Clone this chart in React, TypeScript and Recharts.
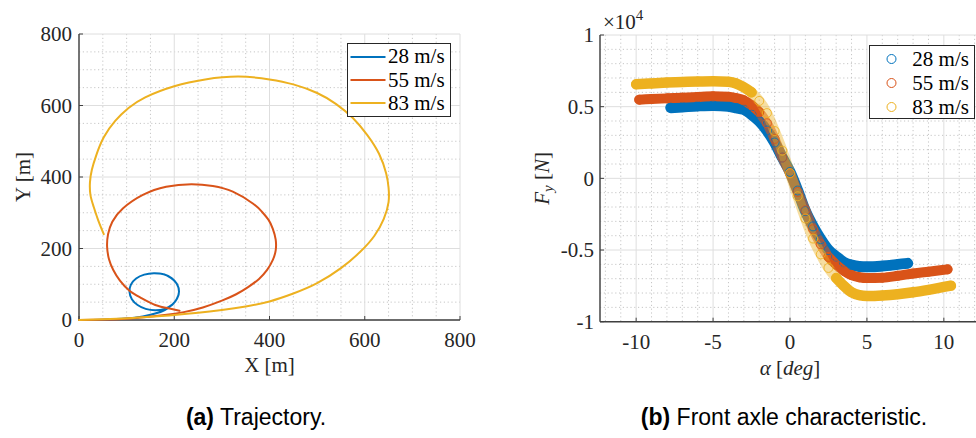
import React from 'react';
import { ScatterChart, Scatter, XAxis, YAxis, CartesianGrid, Legend, Curve } from 'recharts';

const SERIF = '"Liberation Serif", "Times New Roman", serif';
const SANS = '"Liberation Sans", Arial, sans-serif';
const AXIS_COLOR = '#262626';
const MAJOR_GRID = '#dedede';
const MINOR_GRID = '#c6c6c6';

const seriesLabels = ['28 m/s', '55 m/s', '83 m/s'];
const seriesColors = ['#0072BD', '#D95319', '#EDB120'];

// ---- (a) Trajectory: X [m], Y [m]
const traj28X = [0, 50, 100, 134, 160, 180, 195, 205, 210, 206, 195, 178, 157, 137, 120, 109, 106, 111, 123, 140, 160, 180, 196, 206, 210, 205, 193, 175, 157];
const traj28Y = [0, 1, 4, 10, 18, 28, 42, 58, 79, 100, 117, 128, 131, 127, 116, 99, 79, 58, 42, 31, 27, 31, 43, 60, 80, 102, 118, 129, 131];
const traj55X = [0, 43, 90, 130, 180, 220, 260, 300, 330, 355, 378, 395, 407, 413, 413, 407, 398, 384, 365, 323, 281, 236, 183, 134, 92, 70, 61, 59, 63, 72, 86, 106, 130, 160, 190, 211];
const traj55Y = [0, 1, 3, 7, 14, 22, 35, 54, 72, 92, 115, 140, 168, 195, 225, 255, 280, 303, 326, 359, 375, 380, 373, 350, 312, 275, 240, 205, 170, 140, 110, 82, 62, 42, 32, 26];
const traj83X = [0, 50, 104, 150, 200, 250, 300, 350, 400, 450, 500, 550, 590, 620, 640, 650, 650, 645, 630, 605, 575, 540, 500, 450, 400, 335, 265, 200, 139, 104, 76, 52, 36, 27, 23, 24, 30, 40, 52];
const traj83Y = [0, 2, 5, 9, 14, 20, 28, 38, 52, 74, 103, 145, 190, 235, 283, 330, 370, 410, 465, 518, 565, 604, 635, 659, 673, 681, 673, 654, 623, 593, 557, 511, 460, 420, 385, 350, 320, 280, 240];
const trajTicks = [0, 200, 400, 600, 800];

// ---- (b) Front axle characteristic: alpha [deg], Fy [N]
const alpha28 = [-7.75, -7, -6, -5, -4, -3.5, -3, -2.5, -2, -1.5, -1, -0.5, 0, 0.5, 1, 1.5, 2, 2.5, 3, 3.5, 4, 4.5, 5, 5.5, 6, 6.5, 7, 7.65];
const fy28 = [4930, 4980, 5050, 5090, 5020, 4920, 4800, 4450, 3980, 3340, 2500, 1450, 450, -850, -2280, -3350, -4250, -5000, -5450, -5850, -6050, -6150, -6170, -6160, -6120, -6070, -6000, -5930];
const alpha55 = [-9.8, -9, -8, -7, -6, -5, -4, -3.5, -3, -2.5, -2, -1.5, -1, -0.5, 0, 0.5, 1, 1.5, 2, 2.5, 3, 3.5, 4, 4.5, 5, 6, 7, 8, 9, 10.24];
const fy55 = [5490, 5530, 5580, 5630, 5680, 5720, 5690, 5600, 5450, 5100, 4620, 3840, 2750, 1450, 350, -950, -2230, -3550, -4600, -5480, -6020, -6450, -6750, -6900, -6960, -6930, -6800, -6640, -6510, -6350];
const alpha83 = [-10, -9, -8, -7, -6, -5, -4, -3.5, -3, -2.5, -2, -1.5, -1, -0.5, 0, 0.5, 1, 1.5, 2, 2.5, 3, 3.5, 4, 4.5, 5, 5.5, 6, 7, 8, 9, 10.46];
const fy83 = [6560, 6620, 6680, 6720, 6760, 6780, 6740, 6620, 6350, 6000, 5400, 4550, 3300, 1930, 350, -1250, -2800, -4200, -5300, -6250, -6950, -7500, -7950, -8150, -8210, -8200, -8170, -8080, -7950, -7780, -7490];
const alphaTicks = [-10, -5, 0, 5, 10];
const fyTicks = [-10000, -5000, 0, 5000, 10000];

// transition band (lighter, ring-textured in the original) per series
const bandMid = [
  { from: 0, to: 0, opacity: 1, width: 11 },
  { from: -2, to: 2.5, opacity: 0.6, width: 10 },
  { from: -2.5, to: 3, opacity: 0.42, width: 10.5 },
];

const zip = (xs: number[], ys: number[]) => xs.map((x, i) => ({ x, y: ys[i] }));
const trajSeries = [zip(traj28X, traj28Y), zip(traj55X, traj55Y), zip(traj83X, traj83Y)];
const fySeries = [zip(alpha28, fy28), zip(alpha55, fy55), zip(alpha83, fy83)];

const TRAJ_DOMAIN: [number, number] = [0, 800];
const ALPHA_DOMAIN: [number, number] = [-12.35, 12.35];
const FY_DOMAIN: [number, number] = [-10000, 10000];

function minorGen(domain: [number, number], step: number, majorStep: number, key: 'xAxis' | 'yAxis') {
  return (props: any) => {
    const axis = props[key];
    const off = props.offset || {};
    const out: number[] = [];
    const n0 = Math.ceil(domain[0] / step - 1e-9);
    const n1 = Math.floor(domain[1] / step + 1e-9);
    for (let n = n0; n <= n1; n++) {
      const v = n * step;
      const r = v / majorStep;
      if (Math.abs(r - Math.round(r)) < 1e-6) continue;
      let p: any = undefined;
      if (axis && typeof axis.scale === 'function') p = axis.scale(v);
      else if (axis && axis.scale && typeof axis.scale.map === 'function') p = axis.scale.map(v);
      if (typeof p !== 'number' || !isFinite(p)) {
        if (key === 'xAxis') p = off.left + ((v - domain[0]) / (domain[1] - domain[0])) * off.width;
        else p = off.top + ((domain[1] - v) / (domain[1] - domain[0])) * off.height;
      }
      out.push(p);
    }
    return out;
  };
}

const makeTick = (side: 'bottom' | 'left', fmt: (v: number) => string = (v) => String(v)) => (p: any) => (
  <text
    x={p.x}
    y={p.y}
    dy={side === 'bottom' ? '0.71em' : '0.355em'}
    textAnchor={side === 'bottom' ? 'middle' : 'end'}
    fill="#262626"
    fontSize={21}
    fontFamily={SERIF}
  >
    {fmt(p.payload.value)}
  </text>
);

const NoShape = () => <g />;
const ring = (color: string) => (p: any) => (
  <circle cx={p.cx} cy={p.cy} r={4.5} fill="none" stroke={color} strokeWidth={1} strokeOpacity={0.85} />
);
const smoothLine = (type: any, stroke: string, width: number, opacity = 1) => (p: any) => (
  <Curve {...p} type={type} stroke={stroke} strokeWidth={width} strokeOpacity={opacity} fill="none" strokeLinecap="round" strokeLinejoin="round" />
);

const TrajLegend = () => (
  <div style={{ width: 104, height: 74, boxSizing: 'border-box', border: `1px solid ${AXIS_COLOR}`, background: '#fff', paddingTop: 1, fontFamily: SERIF, fontSize: 21, color: '#000' }}>
    {seriesLabels.map((lab, i) => (
      <div key={lab} style={{ display: 'flex', alignItems: 'center', height: 23.4, whiteSpace: 'nowrap' }}>
        <svg width={40} height={10} style={{ flex: 'none' }}>
          <line x1={2.5} x2={37.5} y1={5} y2={5} stroke={seriesColors[i]} strokeWidth={2} />
        </svg>
        <span style={{ lineHeight: '23px' }}>{lab}</span>
      </div>
    ))}
  </div>
);

const FyLegend = () => (
  <div style={{ width: 106, height: 74, boxSizing: 'border-box', border: `1px solid ${AXIS_COLOR}`, background: '#fff', paddingTop: 1, fontFamily: SERIF, fontSize: 21, color: '#000' }}>
    {seriesLabels.map((lab, i) => (
      <div key={lab} style={{ display: 'flex', alignItems: 'center', height: 24, whiteSpace: 'nowrap' }}>
        <svg width={42} height={12} style={{ flex: 'none' }}>
          <circle cx={21.5} cy={6} r={4.5} fill="none" stroke={seriesColors[i]} strokeWidth={1} />
        </svg>
        <span style={{ lineHeight: '23px' }}>{lab}</span>
      </div>
    ))}
  </div>
);

const xTitle = (content: React.ReactNode, base: number) => (props: any) => {
  const vb = props.viewBox || {};
  return (
    <text x={vb.x + vb.width / 2} y={vb.y + base} textAnchor="middle" fill="#262626" fontSize={21} fontFamily={SERIF}>
      {content}
    </text>
  );
};
const yTitle = (content: React.ReactNode, baseX: number) => (props: any) => {
  const vb = props.viewBox || {};
  const cy = vb.y + vb.height / 2;
  const cx = vb.x + baseX;
  return (
    <text x={cx} y={cy} transform={`rotate(-90, ${cx}, ${cy})`} textAnchor="middle" fill="#262626" fontSize={21} fontFamily={SERIF}>
      {content}
    </text>
  );
};

const axisCommon = {
  tickSize: -4,
  axisLine: { stroke: '#404040', strokeWidth: 1.4 },
  tickLine: { stroke: '#404040' },
};

function TrajectoryChart() {
  return (
    <ScatterChart width={480} height={380} margin={{ top: 34, right: 20, bottom: 10, left: 0 }}>
      <CartesianGrid
        stroke={MINOR_GRID}
        strokeDasharray="1.2 2.6"
        verticalCoordinatesGenerator={minorGen(TRAJ_DOMAIN, 50, 200, 'xAxis')}
        horizontalCoordinatesGenerator={minorGen(TRAJ_DOMAIN, 50, 200, 'yAxis')}
      />
      <CartesianGrid stroke={MAJOR_GRID} strokeWidth={1} />
      <XAxis
        type="number"
        dataKey="x"
        domain={TRAJ_DOMAIN}
        ticks={trajTicks}
        height={50}
        tickMargin={16}
        tick={makeTick('bottom')}
        {...axisCommon}
        label={xTitle('X [m]', 52)}
      />
      <YAxis
        type="number"
        dataKey="y"
        domain={TRAJ_DOMAIN}
        ticks={trajTicks}
        width={79}
        tickMargin={11}
        tick={makeTick('left')}
        {...axisCommon}
        label={yTitle('Y [m]', 30)}
      />
      {trajSeries.map((d, i) => (
        <Scatter
          key={seriesLabels[i]}
          name={seriesLabels[i]}
          data={d}
          fill={seriesColors[i]}
          line={smoothLine('natural', seriesColors[i], 2)}
          lineJointType="natural"
          shape={NoShape}
          isAnimationActive={false}
        />
      ))}
      <Legend
        layout="vertical"
        align="center"
        verticalAlign="middle"
        content={TrajLegend}
        wrapperStyle={{ position: 'absolute', left: 347, top: 43, width: 104, height: 74 }}
      />
    </ScatterChart>
  );
}

function FyChart() {
  const bands: any[] = [];
  fySeries.forEach((d, i) => {
    const m = bandMid[i];
    const segs = m.opacity >= 1
      ? [{ pts: d, op: 1 }]
      : [
          { pts: d.filter((p) => p.x <= m.from), op: 1 },
          { pts: d.filter((p) => p.x >= m.from && p.x <= m.to), op: m.opacity },
          { pts: d.filter((p) => p.x >= m.to), op: 1 },
        ];
    bands.push({ i, segs, w: m.width });
  });
  return (
    <ScatterChart width={490} height={380} margin={{ top: 35, right: 0, bottom: 8.3, left: 0 }}>
      <CartesianGrid
        stroke={MINOR_GRID}
        strokeDasharray="1.2 2.6"
        verticalCoordinatesGenerator={minorGen(ALPHA_DOMAIN, 1, 5, 'xAxis')}
        horizontalCoordinatesGenerator={minorGen(FY_DOMAIN, 1000, 5000, 'yAxis')}
      />
      <CartesianGrid stroke={MAJOR_GRID} strokeWidth={1} />
      <XAxis
        type="number"
        dataKey="x"
        domain={ALPHA_DOMAIN}
        ticks={alphaTicks}
        height={50}
        tickMargin={16}
        tick={makeTick('bottom')}
        {...axisCommon}
        label={xTitle(
          <>
            <tspan fontStyle="italic">α</tspan>
            <tspan> [</tspan>
            <tspan fontStyle="italic">deg</tspan>
            <tspan>]</tspan>
          </>,
          53
        )}
      />
      <YAxis
        type="number"
        dataKey="y"
        domain={FY_DOMAIN}
        ticks={fyTicks}
        width={110}
        tickMargin={10}
        tick={makeTick('left', (v: number) => String(v / 10000))}
        {...axisCommon}
        label={yTitle(
          <>
            <tspan fontStyle="italic">F</tspan>
            <tspan fontStyle="italic" fontSize={15} dy={4}>y</tspan>
            <tspan dy={-4}> [</tspan>
            <tspan fontStyle="italic">N</tspan>
            <tspan>]</tspan>
          </>,
          59
        )}
      />
      {bands.map(({ i, segs, w }) =>
        segs.map((s: any, k: number) => (
          <Scatter
            key={`band-${i}-${k}`}
            data={s.pts}
            fill={seriesColors[i]}
            line={smoothLine('monotoneX', seriesColors[i], w, s.op)}
            lineJointType="monotoneX"
            shape={NoShape}
            legendType="none"
            isAnimationActive={false}
          />
        ))
      )}
      {fySeries.map((d, i) => (
        <Scatter
          key={`pts-${i}`}
          name={seriesLabels[i]}
          data={d}
          fill={seriesColors[i]}
          shape={ring(seriesColors[i])}
          isAnimationActive={false}
        />
      ))}
      <Legend
        layout="vertical"
        align="center"
        verticalAlign="middle"
        content={FyLegend}
        wrapperStyle={{ position: 'absolute', left: 379.3, top: 45, width: 106, height: 74 }}
      />
    </ScatterChart>
  );
}

export default function App() {
  return (
    <div style={{ position: 'fixed', left: 0, top: 0, width: 976, height: 438, overflow: 'hidden', background: '#fff', fontFamily: SERIF }}>
      <div style={{ position: 'absolute', left: 0, top: 0 }}>
        <TrajectoryChart />
      </div>
      <div style={{ position: 'absolute', left: 490, top: 0 }}>
        <FyChart />
      </div>
      <div style={{ position: 'absolute', left: 603, top: 12, fontFamily: SERIF, fontSize: 21, lineHeight: '21px', color: '#262626', whiteSpace: 'nowrap' }}>
        <span>×10</span>
        <span style={{ fontSize: 15, position: 'relative', top: -9 }}>4</span>
      </div>
      <div style={{ position: 'absolute', left: 106, width: 300, top: 406, textAlign: 'center', fontFamily: SANS, fontSize: 23, lineHeight: '23px', color: '#000', whiteSpace: 'nowrap' }}>
        <b>(a)</b> Trajectory.
      </div>
      <div style={{ position: 'absolute', left: 634, width: 300, top: 406, textAlign: 'center', fontFamily: SANS, fontSize: 23, lineHeight: '23px', color: '#000', whiteSpace: 'nowrap' }}>
        <b>(b)</b> Front axle characteristic.
      </div>
    </div>
  );
}
